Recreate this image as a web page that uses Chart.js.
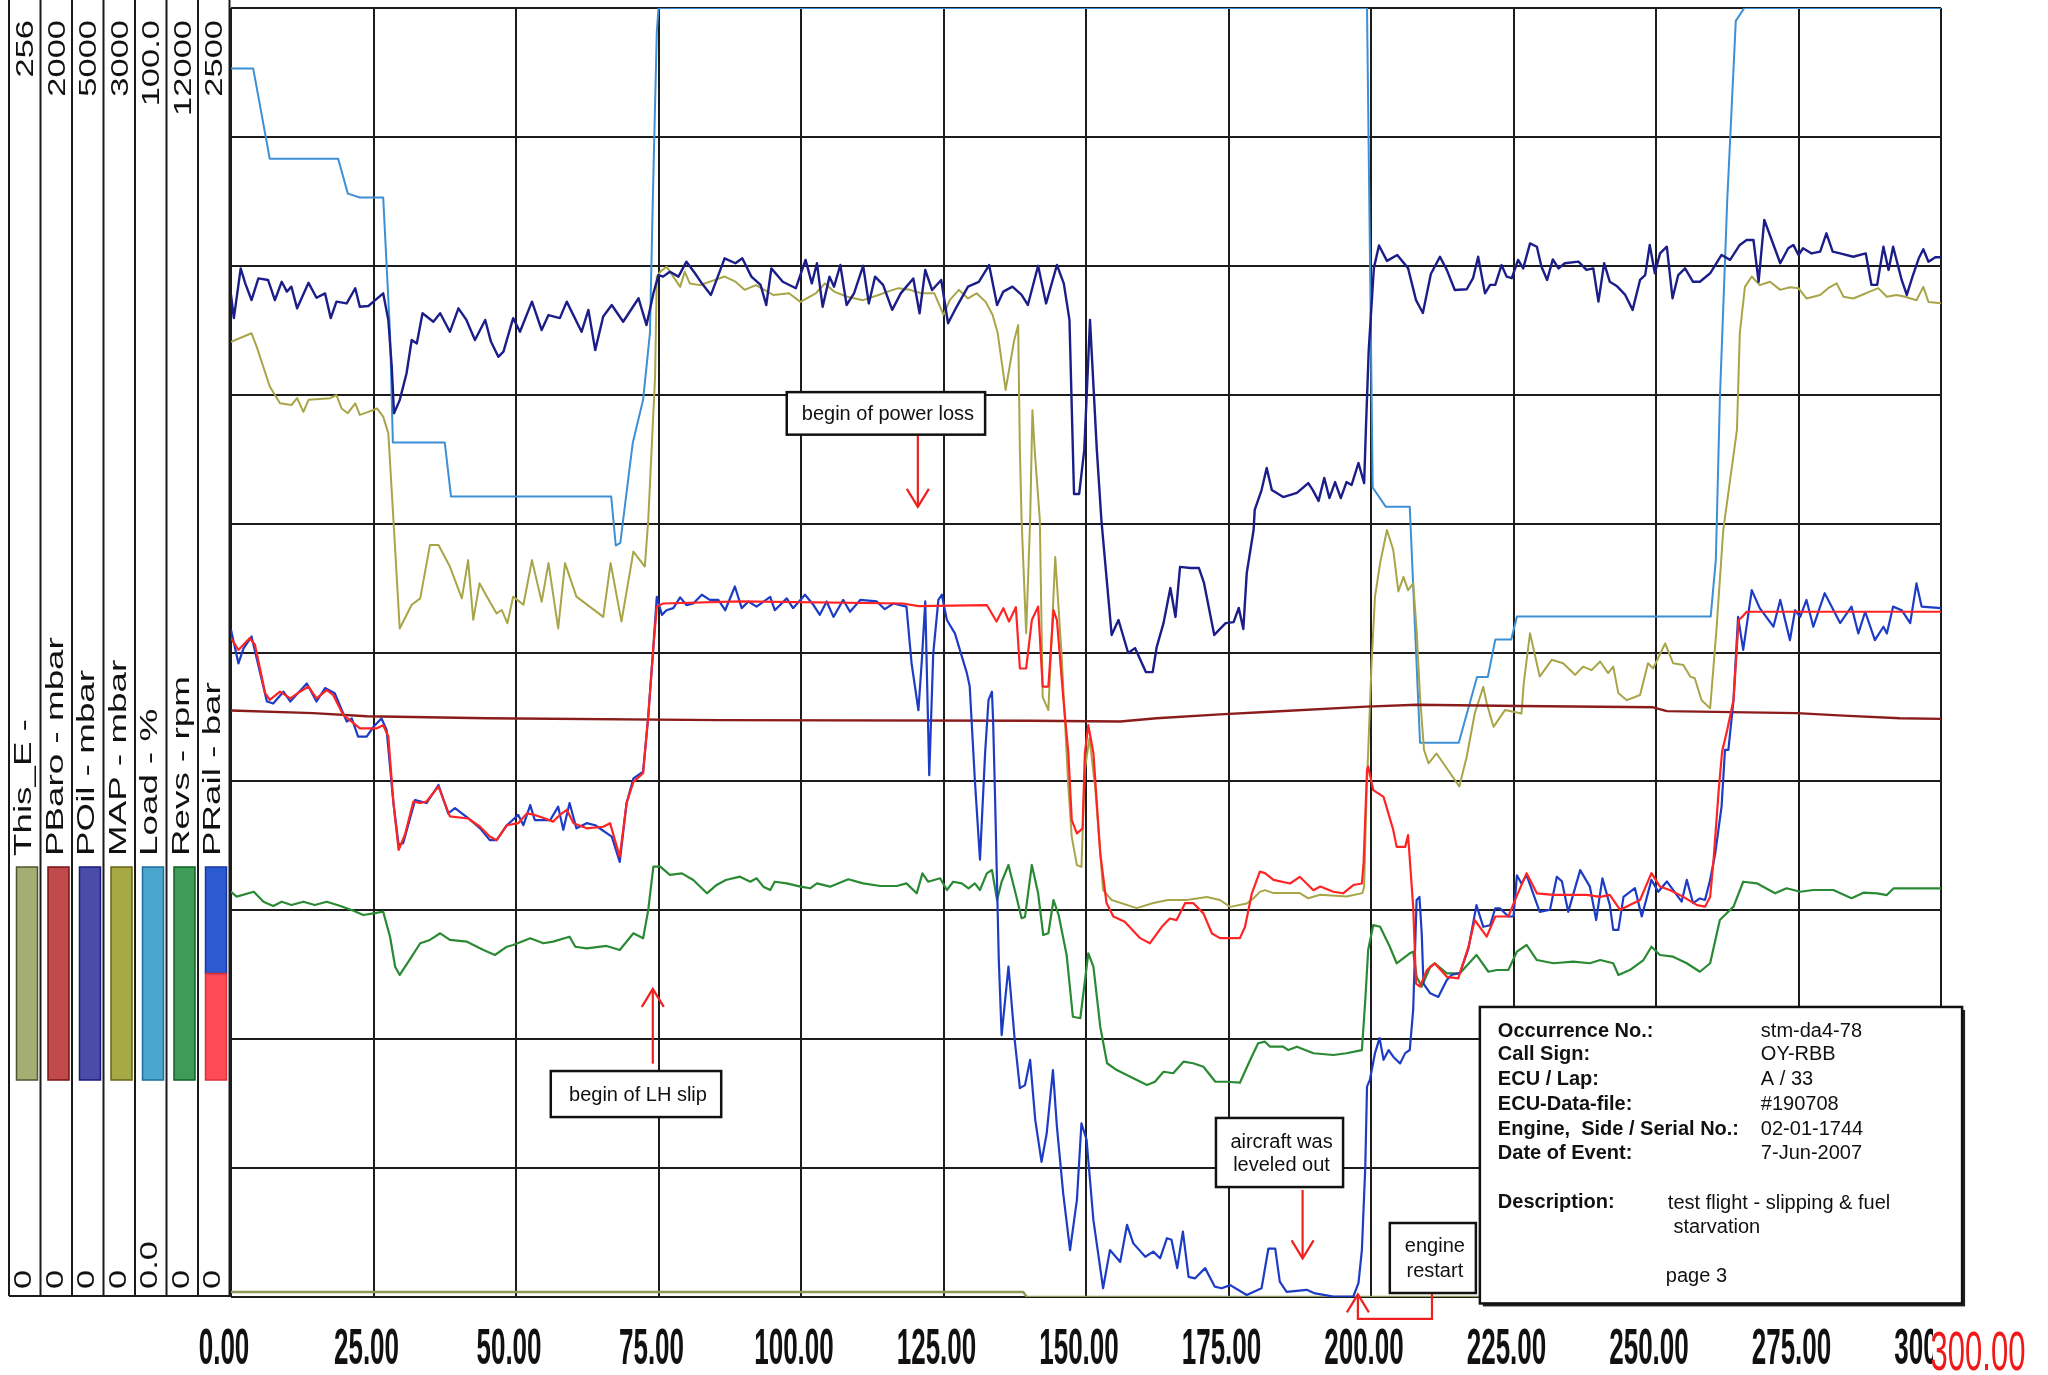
<!DOCTYPE html>
<html>
<head>
<meta charset="utf-8">
<script src="https://cdn.jsdelivr.net/npm/chart.js@4.4.1/dist/chart.umd.min.js"></script>
<style>
html,body{margin:0;padding:0;background:#fff;}
#wrap{width:2048px;height:1375px;position:relative;}
</style>
</head>
<body>
<div id="wrap"><canvas id="c" width="2048" height="1375"></canvas></div>
<script>
// ECU log, lap A/33: time in seconds, each channel in its own unit.

// Channel legend (left panel)
const channelNames   = ['This_E -', 'PBaro - mbar', 'POil - mbar', 'MAP - mbar', 'Load - %', 'Revs - rpm', 'PRail - bar'];
const channelMax     = [256, 2000, 5000, 3000, 100, 12000, 2500];
const channelMaxText = ['256', '2000', '5000', '3000', '100.0', '12000', '2500'];
const channelMinText = ['0', '0', '0', '0', '0.0', '0', '0'];

// Time axis
const timeTicks  = [0, 25, 50, 75, 100, 125, 150, 175, 200, 225, 250, 275, 300];
const timeLabels = ['0.00', '25.00', '50.00', '75.00', '100.00', '125.00', '150.00', '175.00', '200.00', '225.00', '250.00', '275.00', '300.00'];
const timeEndLabel = '300.00';

// This_E
const thisET = [0, 139, 139.6, 300];
const thisEV = [1, 1, 0, 0];

// Load - %
const loadT = [0, 3.9, 6.8, 18.8, 20.5, 22.6, 26.7, 27.9, 28.4, 37.5, 38.6, 66.7, 67.5, 68.3, 69.9, 70.5, 72.3, 73.5, 74.0, 74.7, 75.0,
  199.3, 200.3, 202.6, 206.8, 208.6, 215.4, 218.6, 220.5, 221.8, 224.6, 225.6, 259.6, 260.5, 261.2, 262.5, 264.0, 265.5, 300];
const loadV = [95.3, 95.3, 88.3, 88.3, 85.6, 85.3, 85.3, 74.8, 66.3, 66.3, 62.1, 62.1, 58.3, 58.5, 64.2, 66.3, 69.6, 74.8, 85.1, 98.1, 100,
  100, 62.8, 61.3, 61.3, 43.0, 43.0, 48.1, 48.1, 51.0, 51.0, 52.8, 52.8, 57.2, 69.6, 85.1, 99.0, 100, 100];

// PBaro - mbar
const pbaroT = [0, 14.4, 23.8, 44.9, 85.8, 140.2, 156.0, 162.4, 173.5, 182.3, 199.2, 208.0, 226.1, 249.5, 251.9, 274.7, 282.9, 292.8, 300];
const pbaroV = [910, 906, 901, 898, 895, 894, 893, 898, 904, 908, 916, 919, 917, 915, 909, 906, 902, 898, 897];

// POil - mbar
const poilT = [0, 0.5, 1.7, 2.5, 3.6, 4.8, 6.5, 7.7, 8.9, 9.8, 10.6, 11.6, 13.6, 15.0, 16.5, 17.5, 18.5, 20.3, 21.8, 22.6, 24.1, 25.3, 26.7,
  27.6, 28.2, 28.6, 29.6, 30.8, 31.7, 32.6, 33.6, 35.5, 36.7, 38.4, 39.9, 41.3, 42.8, 44.6, 45.6, 46.9, 47.8, 49.5, 50.7, 52.8, 54.5, 55.7,
  57.7, 58.9, 61.5, 62.7, 63.9, 65.3, 66.8, 68.8, 71.5, 72.9, 74.1, 75.0, 75.8, 77.0, 78.5, 79.9, 81.4, 82.6, 84.2, 86.6, 88.5, 89.7,
  91.3, 92.9, 93.9, 94.8, 96.8, 99.1, 100.8, 101.9, 102.8, 103.8, 105.0, 105.8, 106.9, 108.0, 109.3, 110.9, 111.9, 113.0, 114.4, 116.0,
  117.5, 119.7, 120.8, 121.8, 123.0, 124.6, 125.8, 127.3, 129.3, 131.2, 133.0, 134.4, 135.5, 137.1, 138.7, 139.8, 141.6, 143.0, 144.9,
  146.1, 147.1, 147.9, 148.8, 149.7, 150.7, 151.9, 152.7, 154.5, 155.7, 157.4, 158.6, 160.5, 161.7, 162.4, 163.6, 164.8, 165.7, 166.5,
  168.3, 169.8, 170.7, 172.5, 173.3, 174.5, 175.9, 176.8, 177.6, 178.2, 179.4, 179.6, 180.8, 181.7, 182.6, 184.6, 187.0, 189.0, 189.8,
  190.8, 191.8, 192.7, 193.7, 194.7, 195.7, 196.6, 197.8, 198.8, 199.1, 199.6, 200.5, 201.4, 202.8, 204.6, 206.5, 207.9, 209.1, 210.5,
  212.1, 213.3, 214.7, 216.8, 217.9, 218.8, 220.0, 220.9, 221.8, 222.9, 223.8, 224.7, 225.8, 226.7, 227.9, 229.1, 229.9, 230.9, 231.9,
  232.9, 234.0, 236.4, 237.8, 239.0, 239.9, 240.9, 241.9, 243.1, 244.6, 245.9, 247.2, 248.1, 248.9, 249.8, 250.7, 251.9, 252.9, 253.9,
  255.1, 256.5, 257.7, 259.5, 261.5, 263.0, 264.7, 265.9, 267.1, 268.0, 269.0, 270.3, 271.8, 273.2, 274.1, 275.0, 275.8, 277.3, 278.8,
  279.9, 281.0, 282.3, 284.6, 286.8, 287.8, 288.8, 289.9, 290.8, 291.6, 293.1, 294.0, 295.0, 296.1, 296.9, 297.8, 299.0, 300];
const poilV = [3887, 3797, 3990, 3932, 3867, 3951, 3945, 3867, 3938, 3900, 3919, 3835, 3934, 3876, 3893, 3797, 3861, 3854, 3913, 3841, 3844, 3867, 3893,
  3790, 3609, 3428, 3479, 3583, 3712, 3699, 3816, 3783, 3816, 3744, 3835, 3790, 3712, 3790, 3706, 3647, 3667, 3797, 3744, 3861, 3751, 3809,
  3797, 3861, 3744, 3829, 3673, 3803, 3848, 3783, 3874, 3770, 3893, 3964, 3958, 3977, 3958, 4016, 3971, 3932, 3887, 4029, 4010, 4029,
  3958, 3926, 3848, 3990, 3938, 3913, 4023, 3932, 4010, 3841, 3958, 3919, 4003, 3848, 3893, 4000, 3854, 3958, 3926, 3829,
  3893, 3951, 3816, 3984, 3906, 3945, 3777, 3841, 3919, 3938, 4003, 3848, 3900, 3919, 3887, 3848, 4000, 3854, 4003,
  3932, 3790, 3115, 3115, 3286, 3790, 3286, 3014, 2568, 2626, 2498, 2517, 2424, 2424, 2521, 2614, 2750, 2638, 2832,
  2828, 2828, 2770, 2568, 2587, 2614, 2618, 2673, 2591, 2808, 2975, 3053, 3130, 3216, 3130, 3103, 3119, 3157, 3130,
  3088, 3177, 3099, 3161, 3099, 3161, 3150, 3235, 3157, 3363, 3673, 3991, 4079, 4019, 4042, 3991, 3867, 3817, 3968,
  4035, 3984, 3906, 3909, 3952, 4035, 3893, 3926, 3926, 4003, 3958, 3952, 4023, 3990, 4087, 4074, 3997, 3945, 4025,
  3990, 4010, 4016, 3984, 3990, 3861, 4010, 3938, 3922, 3887, 3829, 3945, 3964, 4081, 3971, 4048, 4074, 3874, 3964,
  3990, 3938, 3938, 3971, 4042, 4023, 4081, 4100, 4100, 3938, 4178, 4100, 4010, 4068, 4081, 4042, 4068, 4048, 4055,
  4126, 4055, 4048, 4035, 4048, 3926, 3926, 4074, 3984, 4074, 3945, 3887, 3958, 4029, 4064, 4016, 4033, 4033];

// MAP - mbar
const mapT = [0, 3.6, 4.5, 6.8, 8.6, 10.6, 11.6, 12.7, 13.6, 17.4, 18.5, 19.4, 20.5, 21.8, 22.6, 24.1, 25.6, 26.7, 27.6, 28.5, 29.6,
  31.7, 33.2, 34.9, 36.4, 38.4, 40.5, 41.6, 42.5, 43.6, 44.9, 46.6, 47.5, 48.5, 49.5, 51.3, 52.8, 54.5, 55.7, 57.4, 58.6, 60.6, 65.3,
  66.6, 68.5, 70.6, 72.6, 73.2, 74.4, 74.7, 75.3, 76.4, 78.8, 79.6, 80.5, 82.3, 86.6, 88.5, 90.1, 92.1, 95.2, 97.9, 99.9, 102.6, 104.2,
  105.8, 108.1, 110.9, 113.6, 115.2, 117.1, 119.1, 121.1, 123.4, 125.0, 126.1, 127.7, 129.3, 130.8, 132.4, 133.6, 134.5, 135.9, 137.4,
  138.1, 138.4, 138.7, 139.5, 140.2, 140.6, 141.0, 141.9, 142.4, 143.4, 144.6, 145.7, 146.9, 147.5, 148.4, 149.2, 149.8, 150.6, 151.6,
  153.0, 154.5, 158.9, 161.8, 164.4, 167.7, 171.2, 173.5, 175.3, 178.2, 179.4, 180.5, 181.4, 182.9, 187.5, 189.0, 191.1, 195.7, 198.5,
  198.8, 199.2, 200.1, 200.7, 201.6, 202.8, 203.9, 204.8, 205.7, 206.5, 207.4, 208.0, 208.6, 209.3, 210.1, 211.5, 213.9, 215.5, 216.8,
  218.2, 219.7, 220.3, 221.5, 223.5, 226.4, 226.8, 227.9, 229.6, 231.7, 233.7, 235.8, 237.2, 238.7, 240.2, 241.6, 242.5, 243.4, 244.9,
  247.2, 248.6, 249.5, 251.6, 253.0, 254.8, 256.0, 256.8, 258.0, 259.5, 260.6, 261.8, 263.0, 264.2, 264.7, 265.6, 266.8, 268.2, 270.0,
  271.8, 273.5, 275.0, 276.4, 278.8, 280.2, 281.7, 282.9, 284.6, 286.1, 287.5, 289.0, 290.5, 292.2, 293.7, 295.7, 296.9, 297.8, 300];
const mapV = [2223, 2243, 2212, 2119, 2080, 2076, 2092, 2060, 2088, 2092, 2099, 2068, 2057, 2080, 2053, 2060, 2068, 2049, 2010, 1808, 1556,
  1611, 1626, 1750, 1750, 1700, 1626, 1715, 1576, 1661, 1630, 1591, 1599, 1568, 1630, 1611, 1715, 1618, 1708, 1556, 1708, 1630, 1583,
  1708, 1572, 1735, 1700, 1808, 2142, 2375, 2386, 2398, 2351, 2386, 2359, 2355, 2375, 2363, 2344, 2355, 2332, 2336, 2316, 2336, 2359,
  2340, 2328, 2320, 2332, 2340, 2348, 2344, 2336, 2336, 2286, 2320, 2344, 2324, 2336, 2316, 2286, 2244, 2111, 2227,
  2262, 1971, 1808, 1545, 1808, 2064, 1971, 1808, 1396, 1366, 1722, 1499, 1187, 1071, 1005, 1001, 1227, 1301, 1187,
  947, 924, 905, 917, 924, 924, 931, 924, 908, 916, 928, 943, 947, 940, 940, 928, 936, 932, 940,
  955, 1164, 1475, 1630, 1708, 1785, 1739, 1642, 1676, 1645, 1661, 1552, 1397, 1273, 1242, 1265, 1219, 1188, 1258,
  1358, 1420, 1382, 1327, 1366, 1358, 1428, 1545, 1444, 1483, 1475, 1448, 1467, 1459, 1479, 1452, 1467, 1405, 1389,
  1401, 1475, 1463, 1521, 1475, 1471, 1444, 1440, 1389, 1370, 1552, 1785, 1902, 2018, 2243, 2351, 2375, 2355, 2363,
  2344, 2350, 2348, 2324, 2332, 2348, 2359, 2328, 2324, 2332, 2340, 2348, 2328, 2332, 2328, 2320, 2351, 2316, 2313];

// Revs - rpm
const revsT = [0, 1.0, 4.0, 5.7, 7.4, 8.9, 10.6, 12.7, 14.7, 16.8, 19.2, 21.5, 23.2, 25.0, 26.7, 27.9, 28.8, 29.6, 31.7, 33.2, 34.9,
  36.7, 38.4, 41.4, 44.3, 46.3, 48.4, 49.5, 52.5, 54.8, 56.5, 59.4, 60.4, 62.4, 65.9, 68.2, 70.6, 72.3, 73.2, 74.1, 75.3, 77.0, 79.1,
  81.1, 83.5, 85.2, 86.8, 89.3, 91.1, 92.2, 93.4, 94.6, 95.4, 97.5, 99.9, 101.6, 102.8, 105.1, 108.3, 110.9, 113.9, 116.8, 118.5, 120.3,
  121.3, 122.3, 124.4, 125.6, 126.7, 128.2, 129.4, 130.5, 131.4, 132.6, 133.5, 134.4, 135.2, 136.4, 137.5, 138.7, 139.3, 140.5, 141.6,
  142.5, 143.4, 144.3, 145.2, 146.6, 147.7, 149.0, 150.4, 151.3, 152.5, 153.7, 155.4, 158.3, 160.7, 162.1, 163.6, 165.3, 167.1, 168.8,
  170.6, 172.7, 174.7, 177.0, 178.8, 180.2, 181.4, 182.3, 184.6, 185.5, 187.0, 189.9, 193.4, 195.7, 198.4, 199.0, 199.5, 200.4, 201.6,
  203.3, 204.5, 206.8, 207.4, 208.0, 208.9, 210.4, 211.2, 213.3, 215.6, 218.5, 220.6, 222.1, 224.1, 225.6, 227.3, 229.1, 232.0, 235.5,
  238.4, 240.2, 242.5, 243.4, 245.4, 247.8, 249.2, 250.7, 253.0, 255.4, 257.7, 259.5, 261.2, 262.4, 263.6, 265.3, 267.7, 268.8, 270.9,
  272.9, 275.3, 277.6, 281.1, 284.3, 286.4, 288.8, 290.5, 291.7, 300];
const revsV = [3773, 3727, 3773, 3680, 3640, 3680, 3649, 3680, 3649, 3680, 3640, 3596, 3556, 3572, 3587, 3354, 3075, 2998, 3168, 3293, 3324,
  3386, 3324, 3308, 3230, 3184, 3261, 3277, 3339, 3293, 3308, 3354, 3261, 3246, 3268, 3230, 3386, 3339, 3603, 4006, 4006, 3929, 3944,
  3882, 3758, 3836, 3882, 3913, 3866, 3898, 3820, 3789, 3866, 3851, 3820, 3805, 3851, 3820, 3889, 3851, 3826, 3826, 3851, 3758,
  3944, 3866, 3898, 3789, 3866, 3851, 3805, 3851, 3789, 3944, 3975, 3696, 3866, 4022, 3789, 3526, 3538, 4022, 3758,
  3370, 3386, 3696, 3556, 3184, 2609, 2595, 3200, 3075, 2516, 2176, 2113, 2036, 1974, 2004, 2097, 2083, 2191, 2176,
  2144, 2004, 2004, 1995, 2206, 2362, 2377, 2330, 2330, 2299, 2330, 2269, 2253, 2269, 2299, 2765, 3230, 3463, 3447,
  3261, 3107, 3200, 3215, 2982, 2889, 3075, 3107, 3013, 3013, 3184, 3028, 3044, 3044, 3215, 3277, 3137, 3107, 3122,
  3107, 3137, 3107, 2998, 3044, 3137, 3261, 3184, 3168, 3107, 3028, 3107, 3510, 3572, 3634, 3866, 3851, 3820, 3758,
  3805, 3773, 3789, 3789, 3712, 3764, 3758, 3742, 3805, 3805];

// PRail - bar, demanded (red)
const railSetT = [0, 1.3, 3.3, 4.2, 6.0, 6.8, 8.6, 10.4, 12.1, 13.6, 15.0, 16.8, 17.9, 19.7, 21.5, 22.6, 25.6, 26.7, 27.6, 28.5, 29.4,
  30.5, 32.0, 33.2, 34.3, 36.4, 38.4, 41.6, 43.7, 45.4, 46.6, 48.4, 50.4, 51.9, 53.3, 55.1, 56.5, 57.7, 58.9, 60.1, 62.4, 65.3, 66.5,
  68.2, 69.4, 70.6, 72.3, 73.2, 74.1, 74.7, 75.8, 89.3, 117.9, 120.6, 132.6, 134.3, 135.5, 136.5, 137.7, 138.4, 139.5, 140.5, 141.6,
  142.4, 143.4, 144.3, 144.9, 146.0, 146.9, 147.5, 148.4, 149.4, 149.8, 150.4, 151.3, 152.5, 153.6, 154.8, 156.8, 159.5, 161.2, 163.3,
  164.7, 165.9, 167.4, 168.8, 170.6, 172.1, 173.5, 177.0, 177.9, 179.1, 180.5, 181.4, 182.9, 185.8, 187.5, 189.9, 191.1, 193.4, 195.1,
  196.9, 198.4, 198.7, 199.3, 199.5, 200.4, 202.2, 203.9, 204.5, 206.0, 206.5, 207.4, 207.9, 208.6, 209.8, 211.2, 213.3, 215.3, 217.1,
  218.2, 220.3, 221.8, 224.1, 225.5, 227.3, 229.1, 232.0, 237.8, 240.2, 241.9, 243.7, 247.2, 249.2, 250.7, 252.5, 254.8, 257.2, 258.6,
  259.5, 260.1, 261.0, 261.6, 262.5, 263.6, 264.5, 265.1, 265.9, 300];
const railSetV = [1278, 1255, 1278, 1265, 1171, 1158, 1174, 1161, 1174, 1184, 1161, 1177, 1168, 1129, 1113, 1103, 1103, 1109, 1087, 958, 867,
  896, 961, 958, 961, 990, 932, 928, 912, 893, 886, 915, 919, 938, 935, 928, 922, 935, 945, 919, 909, 912, 919,
  854, 958, 999, 1016, 1126, 1261, 1339, 1345, 1349, 1345, 1340, 1342, 1310, 1336, 1310, 1338, 1219, 1219, 1313, 1339,
  1184, 1184, 1332, 1313, 1164, 1055, 925, 899, 909, 1055, 1109, 1055, 861, 764, 738, 728, 696, 686, 718,
  734, 731, 764, 764, 744, 705, 696, 696, 718, 783, 825, 822, 809, 802, 815, 789, 796, 786, 783,
  799, 802, 841, 1022, 1029, 983, 970, 906, 873, 873, 896, 757, 608, 602, 634, 647, 621, 618, 679,
  731, 699, 738, 738, 776, 822, 783, 780, 780, 776, 780, 751, 770, 822, 796, 789, 776, 760, 757,
  776, 848, 983, 1058, 1100, 1158, 1313, 1319, 1329, 1329];

// PRail - bar, measured (blue)
const railActT = [0, 1.3, 2.2, 3.6, 6.3, 7.4, 9.2, 10.4, 13.3, 15.0, 16.5, 18.2, 20.3, 21.2, 22.3, 23.8, 25.0, 26.4, 27.3, 28.5, 29.4,
  30.2, 32.3, 34.3, 36.4, 38.1, 39.3, 41.6, 43.7, 45.4, 46.6, 48.4, 50.4, 51.3, 52.5, 53.3, 56.0, 57.4, 58.3, 59.4, 60.6, 62.4, 63.9,
  66.8, 68.2, 69.4, 70.6, 72.3, 73.2, 74.1, 74.7, 75.6, 76.4, 77.6, 78.8, 79.9, 81.1, 82.6, 84.0, 85.5, 86.7, 88.4, 89.6, 90.8, 92.2,
  94.6, 95.4, 97.5, 98.6, 100.7, 102.2, 103.3, 104.5, 105.7, 107.4, 108.6, 110.4, 113.3, 114.7, 116.2, 118.5, 119.4, 120.6, 121.2, 121.8,
  122.5, 123.2, 124.1, 124.7, 125.6, 127.0, 129.1, 129.6, 130.5, 131.4, 132.3, 132.9, 133.5, 133.7, 134.0, 134.7, 135.2, 136.4, 137.5,
  138.4, 139.3, 140.2, 141.1, 142.2, 143.1, 144.2, 144.9, 146.0, 147.2, 148.4, 149.2, 150.1, 151.3, 153.0, 154.2, 156.0, 157.2, 158.3,
  160.4, 161.8, 163.0, 164.2, 165.0, 166.0, 167.0, 168.0, 169.1, 170.9, 172.6, 173.8, 175.3, 178.2, 180.8, 182.0, 183.2, 184.0, 185.2,
  188.7, 190.2, 193.4, 196.9, 197.8, 198.4, 199.0, 199.3, 199.8, 200.7, 201.5, 202.2, 203.1, 203.9, 205.1, 206.0, 206.8, 207.4, 208.0,
  208.5, 208.9, 209.2, 210.4, 211.8, 213.3, 214.2, 215.6, 217.1, 218.5, 219.7, 220.9, 221.8, 222.6, 224.1, 225.0, 225.6, 226.4, 227.3,
  229.6, 231.4, 232.6, 233.5, 234.6, 236.7, 238.4, 239.5, 240.6, 241.9, 242.5, 243.4, 244.3, 246.3, 247.5, 249.2, 250.4, 251.9, 254.5,
  255.4, 256.5, 257.7, 258.6, 259.5, 260.4, 261.5, 262.1, 262.7, 263.6, 264.4, 265.3, 266.8, 268.2, 270.6, 271.8, 273.5, 274.4, 275.3,
  276.4, 277.6, 279.6, 282.3, 284.3, 285.5, 286.7, 288.4, 289.9, 290.5, 291.6, 293.1, 294.6, 295.7, 296.6, 300];
const railActV = [1294, 1229, 1258, 1281, 1155, 1151, 1174, 1155, 1190, 1155, 1181, 1171, 1116, 1122, 1087, 1087, 1106, 1122, 1100, 958, 877,
  880, 964, 958, 993, 938, 948, 929, 909, 886, 886, 915, 935, 915, 954, 925, 925, 951, 906, 958, 909, 919, 915,
  893, 844, 958, 1006, 1019, 1126, 1261, 1358, 1323, 1332, 1336, 1357, 1342, 1345, 1362, 1352, 1352, 1332, 1378, 1336, 1349, 1339,
  1358, 1332, 1355, 1336, 1362, 1342, 1323, 1349, 1319, 1352, 1329, 1352, 1349, 1334, 1345, 1339, 1229, 1138, 1235, 1349,
  1012, 1248, 1352, 1362, 1313, 1287, 1210, 1184, 1003, 848, 1055, 1158, 1174, 1119, 990, 654, 508, 641, 498,
  405, 411, 460, 343, 262, 317, 440, 330, 201, 91, 188, 337, 305, 149, 17, 91, 68, 140, 104,
  78, 88, 75, 114, 111, 56, 127, 39, 36, 56, 20, 17, 23, 4, 17, 94, 94, 30, 10,
  14, 7, 1, 1, 27, 91, 253, 408, 421, 473, 502, 460, 479, 466, 453, 473, 479, 557, 770,
  776, 705, 608, 589, 582, 615, 625, 628, 676, 760, 718, 721, 754, 754, 738, 738, 818, 802, 818,
  747, 751, 815, 806, 747, 828, 796, 731, 812, 760, 712, 712, 776, 793, 738, 809, 786, 806, 767,
  809, 764, 773, 770, 809, 861, 951, 1061, 1061, 1158, 1319, 1255, 1371, 1336, 1300, 1352, 1274, 1332, 1319,
  1352, 1300, 1365, 1307, 1339, 1287, 1329, 1274, 1300, 1287, 1339, 1332, 1307, 1384, 1339, 1336];

// Event notes
const noteTexts = [['begin of power loss'], ['begin of LH slip'], ['aircraft was', 'leveled out'], ['engine', 'restart']];

// Info block
const infoLabels = ['Occurrence No.:', 'Call Sign:', 'ECU / Lap:', 'ECU-Data-file:', 'Engine,  Side / Serial No.:', 'Date of Event:'];
const infoValues = ['stm-da4-78', 'OY-RBB', 'A / 33', '#190708', '02-01-1744', '7-Jun-2007'];
const infoDescLabel = 'Description:';
const infoDescLines = ['test flight - slipping & fuel', ' starvation'];
const infoPage = 'page 3';

// ------------------------------------------------------------------
const FONT = '"Liberation Sans", Arial, Helvetica, sans-serif';
const pts = (ts, vs) => ts.map((t, i) => ({ x: t, y: vs[i] }));

const lineDs = (label, data, axis, color, width) => ({
  label, data, yAxisID: axis, borderColor: color, backgroundColor: color,
  borderWidth: width, pointRadius: 0, tension: 0, fill: false,
  borderJoinStyle: 'round', borderCapStyle: 'round'
});

const panelColors = [
  { fill: '#a4ad72', edge: '#4d5630' },
  { fill: '#c24a4a', edge: '#7a1212' },
  { fill: '#4a4ca8', edge: '#18187e' },
  { fill: '#a7aa44', edge: '#666610' },
  { fill: '#4aa6cc', edge: '#1c6e9c' },
  { fill: '#3e9c58', edge: '#0f6222' },
  { fill: '#2c5ad0', edge: '#1636a0', fill2: '#ff4a55' }
];

// text running bottom-to-top, stretched along its reading direction
function vText(ctx, str, xBase, y, align, size, stretch) {
  ctx.save();
  ctx.translate(xBase, y);
  ctx.rotate(-Math.PI / 2);
  ctx.scale(stretch, 1);
  ctx.font = size + 'px ' + FONT;
  ctx.textAlign = align;
  ctx.textBaseline = 'alphabetic';
  ctx.fillStyle = '#111';
  ctx.fillText(str, 0, 0);
  ctx.restore();
}

// horizontal text stretched vertically, centred on (cx, cy)
function tallText(ctx, str, cx, cy, size, stretch, color, weight) {
  ctx.save();
  ctx.translate(cx, cy);
  ctx.scale(1, stretch);
  ctx.font = (weight || '') + ' ' + size + 'px ' + FONT;
  ctx.textAlign = 'center';
  ctx.textBaseline = 'alphabetic';
  ctx.fillStyle = color;
  ctx.fillText(str, 0, size * 0.358);
  ctx.restore();
}

function arrowHead(ctx, x, y, dir) {
  ctx.beginPath();
  ctx.moveTo(x - 11, y - 18 * dir);
  ctx.lineTo(x, y);
  ctx.lineTo(x + 11, y - 18 * dir);
  ctx.stroke();
}

const decor = {
  id: 'decor',
  afterDraw(chart) {
    const ctx = chart.ctx;
    const xs = chart.scales.x, gs = chart.scales.yGrid;
    const X = v => xs.getPixelForValue(v), Y = v => gs.getPixelForValue(v);
    const bottom = chart.chartArea.bottom;

    // time labels
    timeTicks.forEach((t, i) => tallText(ctx, timeLabels[i], X(t) - 7, 1346, 26, 1.9, '#111', 'bold'));
    ctx.save();
    ctx.fillStyle = '#fff';
    ctx.fillRect(X(300) - 8, 1318, 120, 57);
    ctx.restore();
    tallText(ctx, timeEndLabel, X(300) + 37, 1350, 31, 1.8, '#f01818');

    // channel panel
    ctx.save();
    ctx.strokeStyle = '#1a1a1a';
    ctx.lineWidth = 2;
    const colL = 9, colW = 31.5;
    for (let i = 0; i <= 7; i++) {
      const x = colL + i * colW;
      ctx.beginPath(); ctx.moveTo(x, 0); ctx.lineTo(x, bottom - 1); ctx.stroke();
    }
    ctx.beginPath(); ctx.moveTo(colL, bottom - 1); ctx.lineTo(X(0), bottom - 1); ctx.stroke();
    ctx.restore();
    channelNames.forEach((name, i) => {
      const left = colL + i * colW;
      vText(ctx, channelMaxText[i], left + 24, 20, 'right', 23, 1.5);
      vText(ctx, name, left + 22, 856, 'left', 23, 1.6);
      vText(ctx, channelMinText[i], left + 22, 1289, 'left', 23, 1.5);
      const c = panelColors[i];
      const bx = left + 7.5, bw = 21, by = 867, bh = 213;
      ctx.save();
      ctx.lineWidth = 1.5;
      if (c.fill2) {
        ctx.fillStyle = c.fill; ctx.fillRect(bx, by, bw, bh / 2);
        ctx.fillStyle = c.fill2; ctx.fillRect(bx, by + bh / 2, bw, bh / 2);
        ctx.strokeStyle = c.edge; ctx.strokeRect(bx, by, bw, bh / 2);
        ctx.strokeStyle = '#e0303a'; ctx.strokeRect(bx, by + bh / 2, bw, bh / 2);
      } else {
        ctx.fillStyle = c.fill; ctx.fillRect(bx, by, bw, bh);
        ctx.strokeStyle = c.edge; ctx.strokeRect(bx, by, bw, bh);
      }
      ctx.restore();
    });

    // event notes: boxes placed in time (s) and grid divisions
    const box = (t0, t1, g0, g1, lines, lineGap) => {
      const x0 = X(t0), x1 = X(t1), y0 = Y(g0), y1 = Y(g1);
      ctx.save();
      ctx.fillStyle = '#fff';
      ctx.fillRect(x0, y0, x1 - x0, y1 - y0);
      ctx.strokeStyle = '#111';
      ctx.lineWidth = 2.5;
      ctx.strokeRect(x0, y0, x1 - x0, y1 - y0);
      ctx.fillStyle = '#111';
      ctx.font = '20px ' + FONT;
      ctx.textAlign = 'center';
      ctx.textBaseline = 'middle';
      const cy = (y0 + y1) / 2 - (lines.length - 1) * lineGap / 2;
      lines.forEach((s, k) => ctx.fillText(s, (x0 + x1) / 2 + 2, cy + k * lineGap + 1));
      ctx.restore();
    };
    ctx.save();
    ctx.strokeStyle = '#ee2020';
    ctx.lineWidth = 2.2;
    ctx.beginPath(); ctx.moveTo(X(120.5), Y(6.69)); ctx.lineTo(X(120.5), Y(6.13)); ctx.stroke();
    arrowHead(ctx, X(120.5), Y(6.13), 1);
    ctx.beginPath(); ctx.moveTo(X(74.0), Y(1.81)); ctx.lineTo(X(74.0), Y(2.39)); ctx.stroke();
    arrowHead(ctx, X(74.0), Y(2.39), -1);
    ctx.beginPath(); ctx.moveTo(X(188.0), Y(0.83)); ctx.lineTo(X(188.0), Y(0.30)); ctx.stroke();
    arrowHead(ctx, X(188.0), Y(0.30), 1);
    ctx.beginPath();
    ctx.moveTo(X(197.7), Y(0.02));
    ctx.lineTo(X(197.7), Y(-0.17));
    ctx.lineTo(X(210.7), Y(-0.17));
    ctx.lineTo(X(210.7), Y(0.03));
    ctx.stroke();
    arrowHead(ctx, X(197.7), Y(0.02), -1);
    ctx.restore();

    box(97.5, 132.3, 7.02, 6.69, noteTexts[0], 0);
    box(56.1, 86.0, 1.753, 1.396, noteTexts[1], 0);
    box(172.8, 195.1, 1.389, 0.853, noteTexts[2], 23);
    box(203.3, 218.4, 0.574, 0.031, noteTexts[3], 25);

    // info block
    const ix0 = X(219.1), ix1 = X(303.7), iy0 = Y(2.25), iy1 = Y(-0.05);
    ctx.save();
    ctx.fillStyle = '#222';
    ctx.fillRect(ix0 + 3, iy0 + 3, ix1 - ix0, iy1 - iy0);
    ctx.fillStyle = '#fff';
    ctx.fillRect(ix0, iy0, ix1 - ix0, iy1 - iy0);
    ctx.strokeStyle = '#111';
    ctx.lineWidth = 2.5;
    ctx.strokeRect(ix0, iy0, ix1 - ix0, iy1 - iy0);
    ctx.fillStyle = '#111';
    ctx.textBaseline = 'middle';
    ctx.textAlign = 'left';
    const rows = [25, 48, 73, 98, 123, 147];
    infoLabels.forEach((s, k) => {
      ctx.font = 'bold 20px ' + FONT;
      ctx.fillText(s, ix0 + 18, iy0 + rows[k]);
      ctx.font = '20px ' + FONT;
      ctx.fillText(infoValues[k], ix0 + 281, iy0 + rows[k]);
    });
    ctx.font = 'bold 20px ' + FONT;
    ctx.fillText(infoDescLabel, ix0 + 18, iy0 + 196);
    ctx.font = '20px ' + FONT;
    ctx.fillText(infoDescLines[0], ix0 + 188, iy0 + 197);
    ctx.fillText(infoDescLines[1], ix0 + 188, iy0 + 221);
    ctx.fillText(infoPage, ix0 + 186, iy0 + 270);
    ctx.restore();
  }
};

const yHidden = (max) => ({ type: 'linear', display: false, min: 0, max });

new Chart(document.getElementById('c'), {
  type: 'line',
  data: {
    datasets: [
      lineDs('PRail - bar (demand)', pts(railSetT, railSetV), 'yRail', '#ff2424', 2.2),
      lineDs('PRail - bar', pts(railActT, railActV), 'yRail', '#1d3cc6', 2.2),
      lineDs('POil - mbar', pts(poilT, poilV), 'yOil', '#1b1d88', 2.4),
      lineDs('Revs - rpm', pts(revsT, revsV), 'yRevs', '#2a8a34', 2.2),
      lineDs('PBaro - mbar', pts(pbaroT, pbaroV), 'yBaro', '#8a1c1c', 2.4),
      lineDs('MAP - mbar', pts(mapT, mapV), 'yMap', '#a8a548', 2.0),
      lineDs('Load - %', pts(loadT, loadV), 'yLoad', '#3d8fd6', 2.0),
      lineDs('This_E -', pts(thisET, thisEV), 'yThis', '#8e9a5c', 2.4)
    ]
  },
  options: {
    responsive: false,
    devicePixelRatio: 1,
    animation: false,
    events: [],
    layout: { padding: { left: 231, right: 107, top: 8, bottom: 78 } },
    plugins: { legend: { display: false }, tooltip: { enabled: false }, title: { display: false } },
    scales: {
      x: {
        type: 'linear', min: 0, max: 300,
        ticks: { stepSize: 25, display: false },
        grid: { color: '#1c1c1c', lineWidth: 2, drawTicks: false },
        border: { display: false },
        afterFit(s) { s.height = 0; }
      },
      yGrid: {
        type: 'linear', position: 'left', min: 0, max: 10,
        ticks: { stepSize: 1, display: false },
        grid: { color: '#1c1c1c', lineWidth: 2, drawTicks: false },
        border: { display: false },
        afterFit(s) { s.width = 0; }
      },
      yThis: yHidden(channelMax[0]),
      yBaro: yHidden(channelMax[1]),
      yOil: yHidden(channelMax[2]),
      yMap: yHidden(channelMax[3]),
      yLoad: yHidden(channelMax[4]),
      yRevs: yHidden(channelMax[5]),
      yRail: yHidden(channelMax[6])
    }
  },
  plugins: [decor]
});
</script>
</body>
</html>
